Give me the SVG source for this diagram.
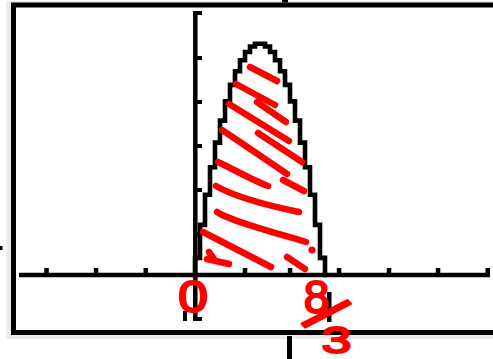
<svg xmlns="http://www.w3.org/2000/svg" width="493" height="359" viewBox="0 0 493 359">
<style>
.frame{fill:none;stroke:#000;stroke-width:5}
.ax{stroke:#000;stroke-width:4.5;fill:none}
.blk{fill:#000}
.curve{fill:none;stroke:#000;stroke-width:4.6;stroke-linecap:square;stroke-linejoin:miter}
.hatch{fill:none;stroke:#ff0000;stroke-width:6.5;stroke-linecap:round;stroke-linejoin:round}
.hand{font-family:"Liberation Sans",Arial,sans-serif;fill:#ff0000;stroke:#ff0000;stroke-width:2;stroke-linejoin:round}
</style>
<rect width="493" height="359" fill="#fff"/>
<g id="screen">
<rect x="6" y="1" width="487" height="338" fill="#ececec"/>
<rect x="14" y="6" width="479" height="325" fill="#fff"/>
<path class="frame" d="M493,5 H13.5 V332.5 H493"/>
</g>
<g id="outside-marks">
<rect class="blk" x="282" y="0" width="6" height="2.5"/>
<rect class="blk" x="287" y="336" width="5" height="23"/>
<rect class="blk" x="0" y="246" width="2.5" height="4"/>
</g>
<g id="axes">
<line class="ax" x1="195.3" y1="11" x2="195.3" y2="321"/>
<rect class="blk" x="193" y="11" width="9" height="4"/>
<rect class="blk" x="197" y="56" width="5" height="4"/>
<rect class="blk" x="197" y="100" width="5" height="4"/>
<rect class="blk" x="197" y="144" width="5" height="4"/>
<rect class="blk" x="197" y="188" width="5" height="4"/>
<rect class="blk" x="197" y="232" width="5" height="4"/>
<rect class="blk" x="193" y="317" width="9" height="4"/>
<rect class="blk" x="183" y="311" width="4" height="10"/>
<line class="ax" x1="19" y1="275" x2="490" y2="275"/>
<rect class="blk" x="44.3" y="268" width="4.5" height="6"/>
<rect class="blk" x="93.8" y="268" width="4.5" height="6"/>
<rect class="blk" x="143.5" y="268" width="4.5" height="6"/>
<rect class="blk" x="242.8" y="268" width="4.5" height="6"/>
<rect class="blk" x="287.8" y="268" width="4.5" height="6"/>
<rect class="blk" x="336.8" y="268" width="4.5" height="6"/>
<rect class="blk" x="386.8" y="268" width="4.5" height="6"/>
<rect class="blk" x="435.8" y="268" width="4.5" height="6"/>
<rect class="blk" x="485.5" y="268" width="4.5" height="6"/>
<rect class="blk" x="327" y="292" width="4.5" height="30"/>
</g>
<g id="parabola">
<path class="curve" d="M195,275 V257.9 H200 V224.9 H205 V194.7 H210 V167.3 H215 V142.6 H220 V120.6 H225 V101.4 H230 V84.9 H235 V71.2 H240 V60.2 H245 V52 H250 V46.5 H255 V43.7 H265 V46.5 H270 V52 H275 V60.2 H280 V71.2 H285 V84.9 H290 V101.4 H295 V120.6 H300 V142.6 H305 V167.3 H310 V194.7 H315 V224.9 H320 V257.9 H325 V275"/>
</g>
<g id="hatching">
<path class="hatch" d="M250,67 L277,81"/>
<path class="hatch" d="M236,84 L275,105"/>
<path class="hatch" d="M257,102 L286,122"/>
<path class="hatch" d="M229,104 L289,141"/>
<path class="hatch" d="M222,130 C228,134 252,150 287,174"/>
<path class="hatch" d="M258,133 L302,162"/>
<path class="hatch" d="M218,162 C235,170 252,180 268,186"/>
<path class="hatch" d="M283,180 L304,191"/>
<path class="hatch" d="M216,186 C235,197 270,206 299,212"/>
<path class="hatch" d="M217,212 C232,222 280,234 306,242"/>
<circle cx="312" cy="250" r="3.6" fill="#ff0000"/>
<path class="hatch" d="M203,232 L271,267"/>
<path class="hatch" d="M209,252 L214,259 M207,259 L229,264"/>
<path class="hatch" d="M287,257 L305,269"/>
</g>
<g id="labels">
<text class="hand" x="193" y="312" font-size="44" text-anchor="middle" textLength="30" lengthAdjust="spacingAndGlyphs">0</text>
<text class="hand" x="316.5" y="313" font-size="46" text-anchor="middle">8</text>
<text class="hand" x="326" y="314" font-size="68" text-anchor="middle" dominant-baseline="central" stroke-width="1" transform="rotate(47.5 326 314)">/</text>
<text class="hand" x="336.5" y="353" font-size="37" text-anchor="middle" textLength="30" lengthAdjust="spacingAndGlyphs">3</text>
</g>
</svg>
